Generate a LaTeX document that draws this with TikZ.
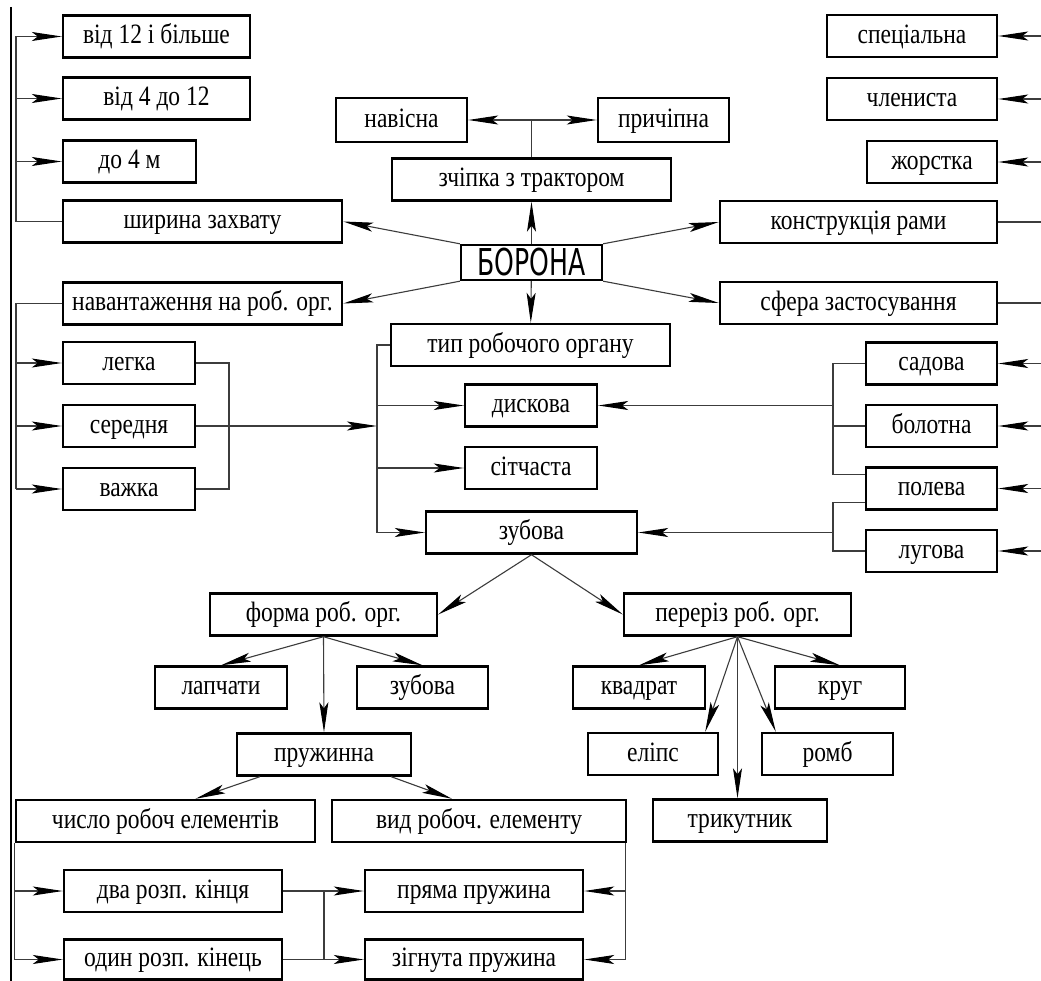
\documentclass[tikz,border=0pt]{standalone}
\usepackage{fontspec}
\setmainfont{Liberation Serif}[FakeStretch=0.84]
\newfontfamily\drawfont{DejaVu Sans}
\usepackage{graphicx}
\usetikzlibrary{arrows.meta,positioning,calc}
\definecolor{ink}{RGB}{60,60,60}
\tikzset{
  >={Stealth[length=30pt,width=9pt,inset=6pt,color=black]},
  box/.style={draw=black,line width=2.4pt,inner sep=0pt,minimum height=42pt,
    minimum width=#1,text height=20.5pt,text depth=6pt,font=\fontsize{28}{30}\selectfont},
  box/.default=132pt,
  flow/.style={->,line width=1.1pt,draw=#1},
  flow/.default=ink,
  wire/.style={line width=1.1pt,draw=#1},
  wire/.default=ink,
}

\begin{document}
\begin{tikzpicture}[x=1pt,y=-1pt]
  \fill[white] (0,0) rectangle (1041,981);
  \useasboundingbox (0,0) rectangle (1041,981);
  \draw[line width=1.6pt] (11,7) -- (11,981);

  % centre
  \node[box=141pt,minimum height=35pt,text height=26pt,text depth=0pt,
    font=\drawfont\fontsize{37}{37}\selectfont] (borona) at (531.5,262.5) {\scalebox{0.68}[1]{БОРОНА}};
  \node[box=279pt] (zchipka) at (531.5,179.5) {зчіпка з трактором};
  \node[box=131pt,minimum height=44pt] (navisna) at (401.5,120) {навісна};
  \node[box=131pt,minimum height=44pt] (prychip) at (663.5,120) {причіпна};
  \node[box=279pt] (typ) at (530.5,345) {тип робочого органу};
  \node[box] (dyskova) at (531,405.5) {дискова};
  \node[box] (sitch) at (531,468) {сітчаста};
  \node[box=211pt] (zubova) at (531.5,532.5) {зубова};

  % left side
  \node[box=187pt] (w12) at (156.5,36.5) {від 12 і більше};
  \node[box=187pt] (w4) at (156.5,98.5) {від 4 до 12};
  \node[box=133pt] (w0) at (129.5,161.5) {до 4 м};
  \node[box=279pt] (shyr) at (202.5,221.5) {ширина захвату};
  \node[box=279pt] (navant) at (202.5,303.5) {навантаження на роб. орг.};
  \node[box] (legka) at (129,363) {легка};
  \node[box] (seredn) at (129,426) {середня};
  \node[box] (vazhka) at (129,489) {важка};

  % right side
  \node[box=170pt] (spec) at (912,36) {спеціальна};
  \node[box=170pt] (chlen) at (912,99) {члениста};
  \node[box=130pt] (zhorst) at (932,162) {жорстка};
  \node[box=277pt] (konstr) at (858.5,222) {конструкція рами};
  \node[box=277pt] (sfera) at (858.5,303) {сфера застосування};
  \node[box=131pt] (sadova) at (931.5,363.5) {садова};
  \node[box=131pt] (bolotna) at (931.5,426) {болотна};
  \node[box=131pt] (poleva) at (931.5,488.5) {полева};
  \node[box=131pt] (lugova) at (931.5,551) {лугова};

  % lower part
  \node[box=227pt] (forma) at (323.5,614.5) {форма роб. орг.};
  \node[box=227pt] (pereriz) at (737.5,614.5) {переріз роб. орг.};
  \node[box] (lapch) at (221,687.5) {лапчати};
  \node[box=131pt] (zub2) at (422.5,687.5) {зубова};
  \node[box] (kvadr) at (639,687.5) {квадрат};
  \node[box=130pt] (krug) at (840,687.5) {круг};
  \node[box=130pt] (elips) at (653,754) {еліпс};
  \node[box=131pt] (romb) at (827.5,754) {ромб};
  \node[box=174pt] (trykut) at (740,820.5) {трикутник};
  \node[box=174pt] (pruzh) at (324,754.5) {пружинна};
  \node[box=299pt] (chyslo) at (165.5,821) {число робоч елементів};
  \node[box=294pt] (vyd) at (479,821) {вид робоч. елементу};
  \node[box=218pt] (dva) at (173,891) {два розп. кінця};
  \node[box=218pt,minimum height=40pt] (odyn) at (173,959.5) {один розп. кінець};
  \node[box=218pt] (pryama) at (474,891) {пряма пружина};
  \node[box=218pt,minimum height=40pt] (zihn) at (474,959.5) {зігнута пружина};

  \coordinate (lb) at (16,0);
  \coordinate (mb) at (229,0);
  \coordinate (cb) at (377,0);
  \coordinate (rc) at (833,0);
  \coordinate (re) at (1041,0);
  \coordinate (sb) at (324,0);
  \coordinate (p1) at ([yshift=14pt]poleva.west);
  \coordinate (p2) at ([yshift=-14pt]poleva.west);

  % from the harrow
  \draw[flow] (borona) -- (zchipka);
  \draw[flow] (borona) -- (typ);
  \draw[flow] (borona.north west) -- (shyr.east);
  \draw[flow] (borona.south west) -- (navant.east);
  \draw[flow] (borona.north east) -- (konstr.west);
  \draw[flow] (borona.south east) -- (sfera.west);
  \draw[flow,<->] (navisna) -- (prychip);
  \draw[wire] (zchipka.north) -- (zchipka.north |- navisna.east);

  \draw[wire] (shyr.west) -- (lb |- shyr.west) -- (lb |- w12.west);
  \foreach \n in {w12,w4,w0} \draw[flow] (lb |- \n.west) -- (\n.west);
  \draw[wire] (navant.west) -- (lb |- navant.west) -- (lb |- vazhka.west);
  \foreach \n in {legka,seredn,vazhka} \draw[flow] (lb |- \n.west) -- (\n.west);
  \draw[wire] (legka.east) -- (mb |- legka.east) -- (mb |- vazhka.east) -- (vazhka.east);
  \draw[flow] (seredn.east) -- (cb |- seredn.east);

  \draw[wire] (typ.west) -- (cb |- typ.west) -- (cb |- zubova.west);
  \foreach \n in {dyskova,sitch,zubova} \draw[flow] (cb |- \n.west) -- (\n.west);

  \foreach \n in {spec,chlen,zhorst,sadova,bolotna,poleva,lugova} \draw[flow] (re |- \n.east) -- (\n.east);
  \draw[wire] (konstr.east) -- (re |- konstr.east);
  \draw[wire] (sfera.east) -- (re |- sfera.east);
  \draw[wire] (sadova.west) -- (rc |- sadova.west) -- (rc |- p1) -- (p1);
  \draw[wire] (bolotna.west) -- (rc |- bolotna.west);
  \draw[flow] (rc |- dyskova.east) -- (dyskova.east);
  \draw[wire] (p2) -- (rc |- p2) -- (rc |- lugova.west) -- (lugova.west);
  \draw[flow] (rc |- zubova.east) -- (zubova.east);

  % tooth harrow
  \draw[flow] (zubova.south) -- (forma.east);
  \draw[flow] (zubova.south) -- (pereriz.west);
  \draw[flow] (forma.south) -- (lapch.north);
  \draw[flow] (forma.south) -- (zub2.north);
  \draw[flow] (forma.south) -- (pruzh.north);
  \draw[flow] (pereriz.south) -- (kvadr.north);
  \draw[flow] (pereriz.south) -- (krug.north);
  \draw[flow] (pereriz.south) -- ([xshift=-14pt]elips.north east);
  \draw[flow] (pereriz.south) -- ([xshift=15pt]romb.north west);
  \draw[flow] (pereriz.south) -- (pereriz.south |- trykut.north);
  \draw[flow] ([xshift=24pt]pruzh.south west) -- ([xshift=30pt]chyslo.north);
  \draw[flow] ([xshift=-21pt]pruzh.south east) -- ([xshift=-27pt]vyd.north);

  \draw[wire] (chyslo.south west) -- (chyslo.south west |- odyn.west);
  \foreach \n in {dva,odyn} \draw[flow] (chyslo.south west |- \n.west) -- (\n.west);
  \draw[wire] ([xshift=-2pt]vyd.south east) -- ([xshift=-2pt]vyd.south east |- zihn.east);
  \foreach \n in {pryama,zihn} \draw[flow] ([xshift=-2pt]vyd.south east |- \n.east) -- (\n.east);
  \draw[flow] (dva.east) -- (pryama.west);
  \draw[flow] (odyn.east) -- (zihn.west);
  \draw[wire] (sb |- dva.east) -- (sb |- odyn.east);
\end{tikzpicture}
\end{document}
